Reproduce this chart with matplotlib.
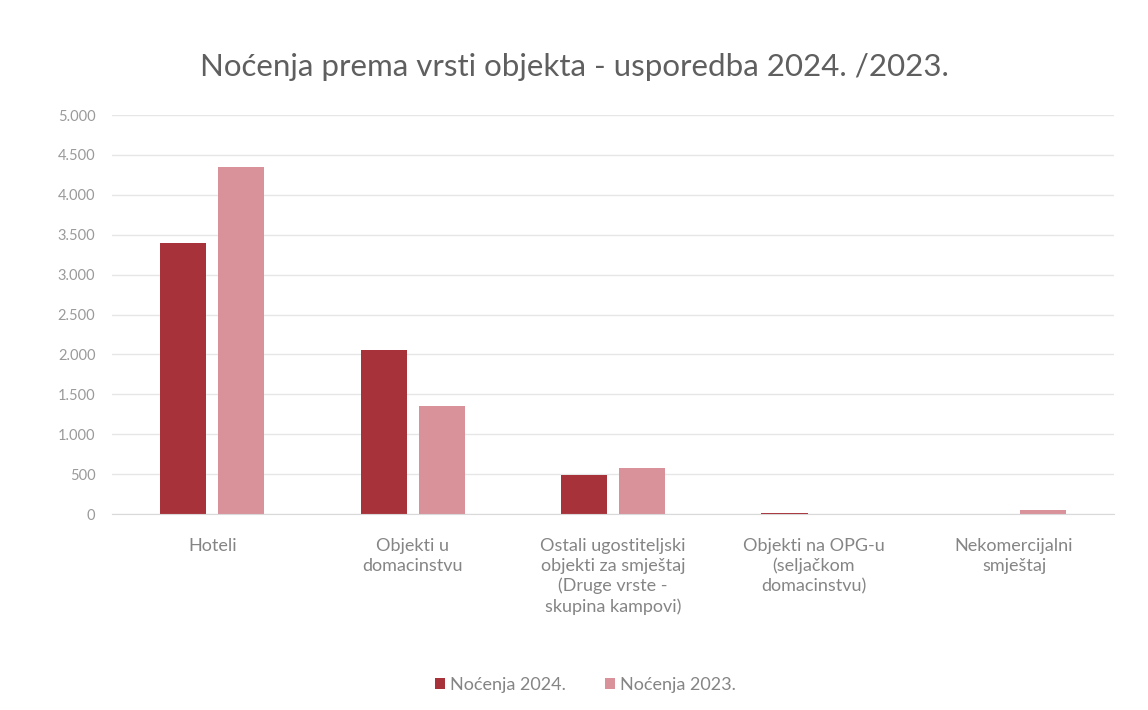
import numpy as np
from matplotlib import pyplot as plt

# podaci
kategorije = ['Hoteli', 'Objekti u\ndomacinstvu',
              'Ostali ugostiteljski\nobjekti za smještaj\n(Druge vrste -\nskupina kampovi)',
              'Objekti na OPG-u\n(seljačkom\ndomacinstvu)', 'Nekomercijalni\nsmještaj']
nocenja_2024 = [3400, 2050, 490, 10, 0]
nocenja_2023 = [4350, 1350, 575, 0, 50]
y_ticks = [0, 500, 1000, 1500, 2000, 2500, 3000, 3500, 4000, 4500, 5000]
y_labels = ['0', '500', '1.000', '1.500', '2.000', '2.500', '3.000', '3.500', '4.000', '4.500', '5.000']

plt.rcParams['font.family'] = ['Lato', 'DejaVu Sans']

def plot_chart():
    fig = plt.figure(figsize=(11.48, 7.10), dpi=100)
    ax = fig.add_axes([0.0976, 0.276, 0.873, 0.562])
    x = np.arange(len(kategorije))
    w = 0.23
    ax.bar(x - 0.145, nocenja_2024, w, color='#A8323A', label='Noćenja 2024.')
    ax.bar(x + 0.145, nocenja_2023, w, color='#D9929A', label='Noćenja 2023.')

    ax.set_xlim(-0.5, 4.5)
    ax.set_ylim(0, 5000)
    ax.set_yticks(y_ticks)
    ax.set_yticklabels(y_labels)
    ax.set_xticks(x)
    ax.set_xticklabels(kategorije, va='top', linespacing=1.3)
    ax.tick_params(axis='y', length=0, labelsize=10.5, labelcolor='#9a9a9a', pad=12)
    ax.tick_params(axis='x', length=0, labelsize=13, labelcolor='#858585', pad=17)
    ax.grid(True, axis='y', color='#e6e6e6', linewidth=1)
    ax.set_axisbelow(True)
    for s in ['top', 'right', 'left']:
        ax.spines[s].set_visible(False)
    ax.spines['bottom'].set_color('#d9d9d9')

    fig.suptitle('Noćenja prema vrsti objekta - usporedba 2024. /2023.', y=0.925,
                 fontsize=22.5, color='#5f5f5f')
    fig.legend(loc='center', bbox_to_anchor=(0.51, 0.035), ncol=2, frameon=False,
               fontsize=13, labelcolor='#858585', handlelength=0.55, handleheight=0.55,
               handletextpad=0.25, columnspacing=2.2)
    fig.savefig('out.png', dpi=100)

def main():
    plot_chart()

if __name__ == "__main__":
    main()
